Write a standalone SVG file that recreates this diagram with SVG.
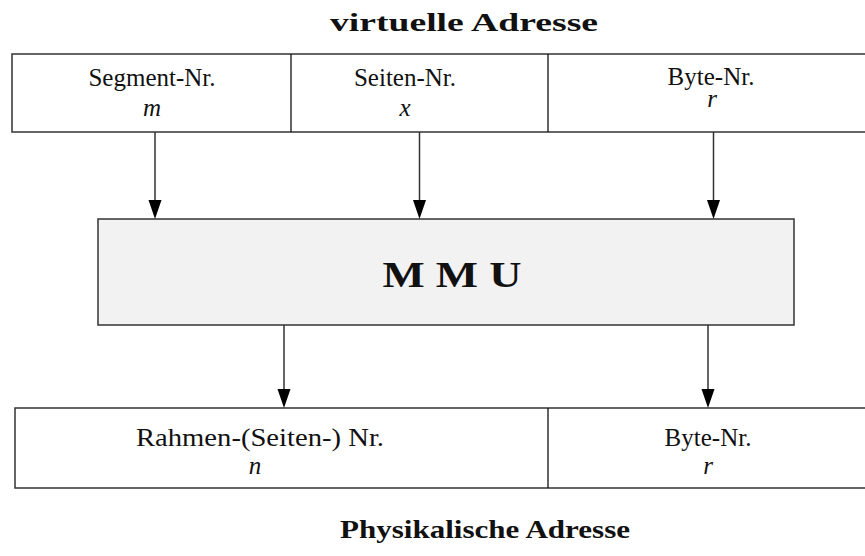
<svg xmlns="http://www.w3.org/2000/svg" width="865" height="556" viewBox="0 0 865 556">
<defs>
<style>
.box{fill:#fff;stroke:#333;stroke-width:1.5}
.mmu{fill:#f2f2f2;stroke:#333;stroke-width:1.5}
.div{stroke:#111;stroke-width:1.3}
.lbl{font-family:"Liberation Serif","DejaVu Serif",serif;font-size:25px;fill:#111;text-anchor:middle}
.var{font-family:"Liberation Serif","DejaVu Serif",serif;font-size:25px;font-style:italic;fill:#111;text-anchor:middle}
.title{font-family:"Liberation Serif","DejaVu Serif",serif;font-size:26px;font-weight:bold;fill:#111;text-anchor:middle}
.conn{stroke:#333;stroke-width:1.5;fill:none}
.head{fill:#000}
</style>
</defs>
<text class="title" x="464" y="31" textLength="268" lengthAdjust="spacingAndGlyphs">virtuelle Adresse</text>
<g id="virtual">
<rect class="box" x="12" y="54" width="870" height="78"/>
<line class="div" x1="291" y1="54" x2="291" y2="132"/>
<line class="div" x1="548" y1="54" x2="548" y2="132"/>
<text class="lbl" x="152" y="86">Segment-Nr.</text>
<text class="var" x="152" y="116">m</text>
<text class="lbl" x="405" y="86">Seiten-Nr.</text>
<text class="var" x="405" y="116">x</text>
<text class="lbl" x="711" y="85">Byte-Nr.</text>
<text class="var" x="712" y="107">r</text>
</g>
<g id="mmu">
<rect class="mmu" x="98" y="219" width="696" height="106"/>
<text class="title" x="452" y="287" style="font-size:36px" textLength="139" lengthAdjust="spacingAndGlyphs">M M U</text>
</g>
<g id="physical">
<rect class="box" x="15" y="408" width="870" height="80"/>
<line class="div" x1="548" y1="408" x2="548" y2="488"/>
<text class="lbl" x="260" y="446" textLength="248" lengthAdjust="spacingAndGlyphs">Rahmen-(Seiten-) Nr.</text>
<text class="var" x="255" y="474">n</text>
<text class="lbl" x="708" y="446">Byte-Nr.</text>
<text class="var" x="708" y="474">r</text>
</g>
<text class="title" x="485" y="538" textLength="290" lengthAdjust="spacingAndGlyphs">Physikalische Adresse</text>
<g id="connectors">
<path class="conn" d="M155,132 V200"/><path class="head" d="M148.5,200 L161.5,200 L155,219 Z"/>
<path class="conn" d="M419.5,132 V200"/><path class="head" d="M413,200 L426,200 L419.5,219 Z"/>
<path class="conn" d="M713.5,132 V200"/><path class="head" d="M707,200 L720,200 L713.5,219 Z"/>
<path class="conn" d="M284,325 V389"/><path class="head" d="M277.5,389 L290.5,389 L284,408 Z"/>
<path class="conn" d="M708,325 V389"/><path class="head" d="M701.5,389 L714.5,389 L708,408 Z"/>
</g>
</svg>
